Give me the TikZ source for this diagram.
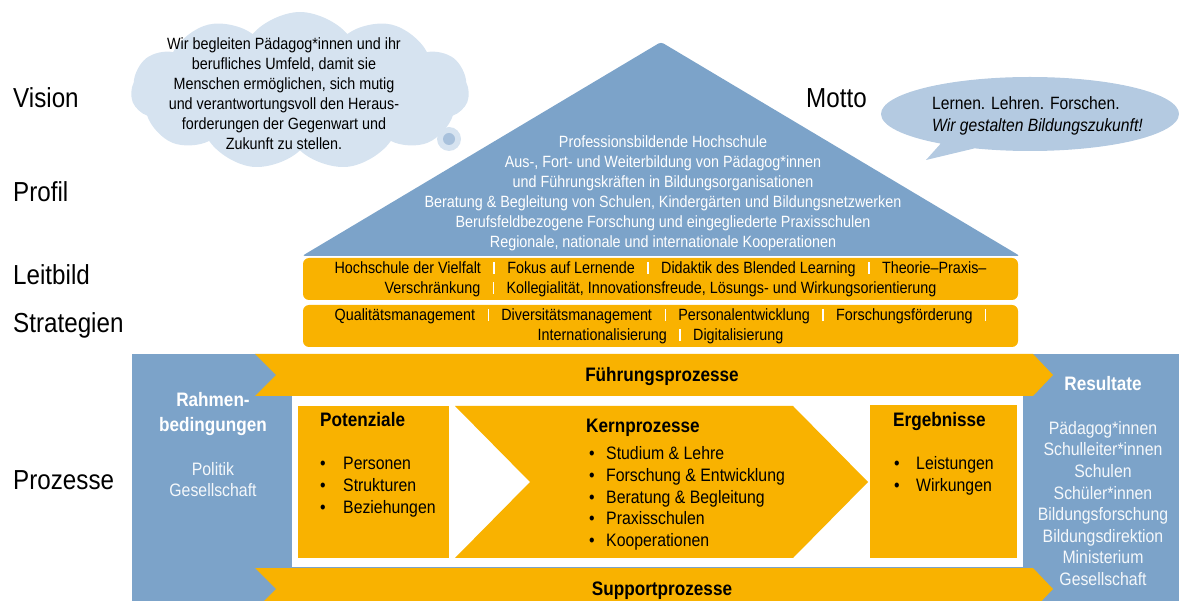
\documentclass[tikz,border=0pt]{standalone}
\usepackage{fontspec}
\setmainfont{Liberation Sans}[FakeStretch=0.88]
\usetikzlibrary{shapes.symbols,shapes.callouts}
\definecolor{hausblau}{HTML}{7CA3C9}
\definecolor{hausgelb}{HTML}{F9B200}
\definecolor{wolkenblau}{HTML}{D6E3F0}
\definecolor{blasenblau}{HTML}{B4CAE1}
\definecolor{kernblau}{HTML}{A8C1DC}
\newcommand\trenner{\hspace{12.5pt}{\color{white}\rule[-1pt]{1.3pt}{12pt}}\hspace{12.5pt}}
\newcommand\pkt[2][20pt]{\makebox[#1][l]{\textbullet}#2}
\begin{document}
\begin{tikzpicture}[x=1pt,y=-1pt,
    ebene/.style={anchor=base west,inner sep=0pt,font=\fontsize{27.5}{32}\selectfont},
    dach/.style={align=center,inner sep=0pt,text=white,font=\fontsize{16.3}{20}\selectfont},
    leiste/.style={fill=hausgelb,rounded corners=6pt,minimum width=715pt,minimum height=42pt,
      align=center,inner sep=0pt,font=\fontsize{16.3}{20}\selectfont},
    kasten/.style={fill=hausgelb,inner sep=0pt},
    titel/.style={anchor=base west,inner sep=0pt,font=\bfseries\fontsize{19.5}{24}\selectfont},
    eintrag/.style={anchor=base west,inner sep=0pt,font=\fontsize{18}{21}\selectfont},
    weiss/.style={align=center,inner sep=0pt,text=white}]
  \useasboundingbox (0,0) rectangle (1179,601);
  \clip (0,0) rectangle (1179,601);
  % Ebenen links
  \node[ebene] (vision) at (13,108) {Vision};
  \node[ebene] (profil) at (13,202) {Profil};
  \node[ebene] (leitbild) at (13,285) {Leitbild};
  \node[ebene] (strategien) at (13,333) {Strategien};
  \node[ebene] (prozesse) at (13,490) {Prozesse};
  \node[ebene] (motto) at (806,108) {Motto};
  % Vision
  \node[cloud,cloud puffs=11,cloud puff arc=100,aspect=2.1,fill=wolkenblau,minimum width=338pt,
    minimum height=158pt,inner sep=0pt] (wolke) at (300,91) {};
  \node[circle,fill=wolkenblau,minimum size=24pt,inner sep=0pt] (gedanke) at (449,139) {};
  \node[circle,fill=kernblau,minimum size=12pt,inner sep=0pt] (gedankenkern) at (gedanke) {};
  \node[align=center,inner sep=0pt,font=\fontsize{16.3}{20}\selectfont] (visiontext) at (284,94)
    {Wir begleiten Pädagog*innen und ihr\\berufliches Umfeld, damit sie\\
     Menschen ermöglichen, sich mutig\\und verantwortungsvoll den Heraus-\\
     forderungen der Gegenwart und\\Zukunft zu stellen.};
  % Motto
  \node[ellipse callout,fill=blasenblau,minimum width=298pt,minimum height=74pt,inner sep=0pt,
    callout absolute pointer={(926,160)}] (blase) at (1030,114) {};
  \node[anchor=west,align=left,inner sep=0pt,font=\fontsize{17.8}{22}\selectfont] (mottotext) at (932,116)
    {Lernen. Lehren. Forschen.\\\textit{Wir gestalten Bildungszukunft!}};
  % Profil
  \fill[hausblau,rounded corners=3pt] (302,256) -- (661,42) -- (1020,256) -- cycle;
  \node[dach] (profiltext) at (663,193.5)
    {Professionsbildende Hochschule\\
     Aus-, Fort- und Weiterbildung von Pädagog*innen\\
     und Führungskräften in Bildungsorganisationen\\
     Beratung \& Begleitung von Schulen, Kindergärten und Bildungsnetzwerken\\
     Berufsfeldbezogene Forschung und eingegliederte Praxisschulen\\
     Regionale, nationale und internationale Kooperationen};
  % Leitbild, Strategien
  \node[leiste] (leitbildleiste) at (660.5,279)
    {Hochschule der Vielfalt\trenner Fokus auf Lernende\trenner Didaktik des Blended Learning\trenner Theorie–Praxis–\\
     Verschränkung\trenner Kollegialität, Innovationsfreude, Lösungs- und Wirkungsorientierung};
  \node[leiste] (strategieleiste) at (660.5,326)
    {Qualitätsmanagement\trenner Diversitätsmanagement\trenner Personalentwicklung\trenner Forschungsförderung\trenner\\
     Internationalisierung\trenner Digitalisierung};
  % Prozesse
  \fill[hausblau] (132,354) rectangle (1179,601);
  \fill[white] (292,396) rectangle (1023,567);
  \fill[hausgelb] (255,354) -- (1033,354) -- (1053,375) -- (1033,396) -- (255,396) -- (276,375) -- cycle;
  \fill[hausgelb] (255,568) -- (1033,568) -- (1053,589) -- (1033,610) -- (255,610) -- (276,589) -- cycle;
  \node[titel,anchor=base] (fuehrung) at (662,382) {Führungsprozesse};
  \node[titel,anchor=base] (support) at (662,595) {Supportprozesse};
  \node[weiss,font=\bfseries\fontsize{19.5}{25}\selectfont] (rahmen) at (213,414) {Rahmen-\\bedingungen};
  \node[weiss,text=white!92!hausblau,font=\fontsize{18}{21}\selectfont] (umfeld) at (213,480) {Politik\\Gesellschaft};
  \node[kasten,minimum width=151pt,minimum height=152pt] (potenziale) at (373.5,482) {};
  \fill[hausgelb] (455,406) -- (793,406) -- (868,482) -- (793,558) -- (455,558) -- (530,482) -- cycle;
  \node[kasten,minimum width=147pt,minimum height=153pt] (ergebnisse) at (943.5,481.5) {};
  \node[titel] (pottitel) at (320,427) {Potenziale};
  \node[eintrag] (pot1) at (320,469.5) {\pkt[23pt]{Personen}};
  \node[eintrag] (pot2) at (320,491.5) {\pkt[23pt]{Strukturen}};
  \node[eintrag] (pot3) at (320,513.5) {\pkt[23pt]{Beziehungen}};
  \node[titel] (kerntitel) at (586,433) {Kernprozesse};
  \node[eintrag] (kern1) at (589,459.5) {\pkt[17pt]{Studium \& Lehre}};
  \node[eintrag] (kern2) at (589,481.5) {\pkt[17pt]{Forschung \& Entwicklung}};
  \node[eintrag] (kern3) at (589,503.5) {\pkt[17pt]{Beratung \& Begleitung}};
  \node[eintrag] (kern4) at (589,524.5) {\pkt[17pt]{Praxisschulen}};
  \node[eintrag] (kern5) at (589,546.5) {\pkt[17pt]{Kooperationen}};
  \node[titel] (ergtitel) at (893,427) {Ergebnisse};
  \node[eintrag] (erg1) at (894,469.5) {\pkt[22pt]{Leistungen}};
  \node[eintrag] (erg2) at (894,491.5) {\pkt[22pt]{Wirkungen}};
  \node[weiss,font=\bfseries\fontsize{19.5}{24}\selectfont] (resultate) at (1103,384) {Resultate};
  \node[weiss,text=white!92!hausblau,font=\fontsize{18}{21.6}\selectfont] (zielgruppen) at (1103,503.5)
    {Pädagog*innen\\Schulleiter*innen\\Schulen\\Schüler*innen\\Bildungsforschung\\
     Bildungsdirektion\\Ministerium\\Gesellschaft};
\end{tikzpicture}
\end{document}
